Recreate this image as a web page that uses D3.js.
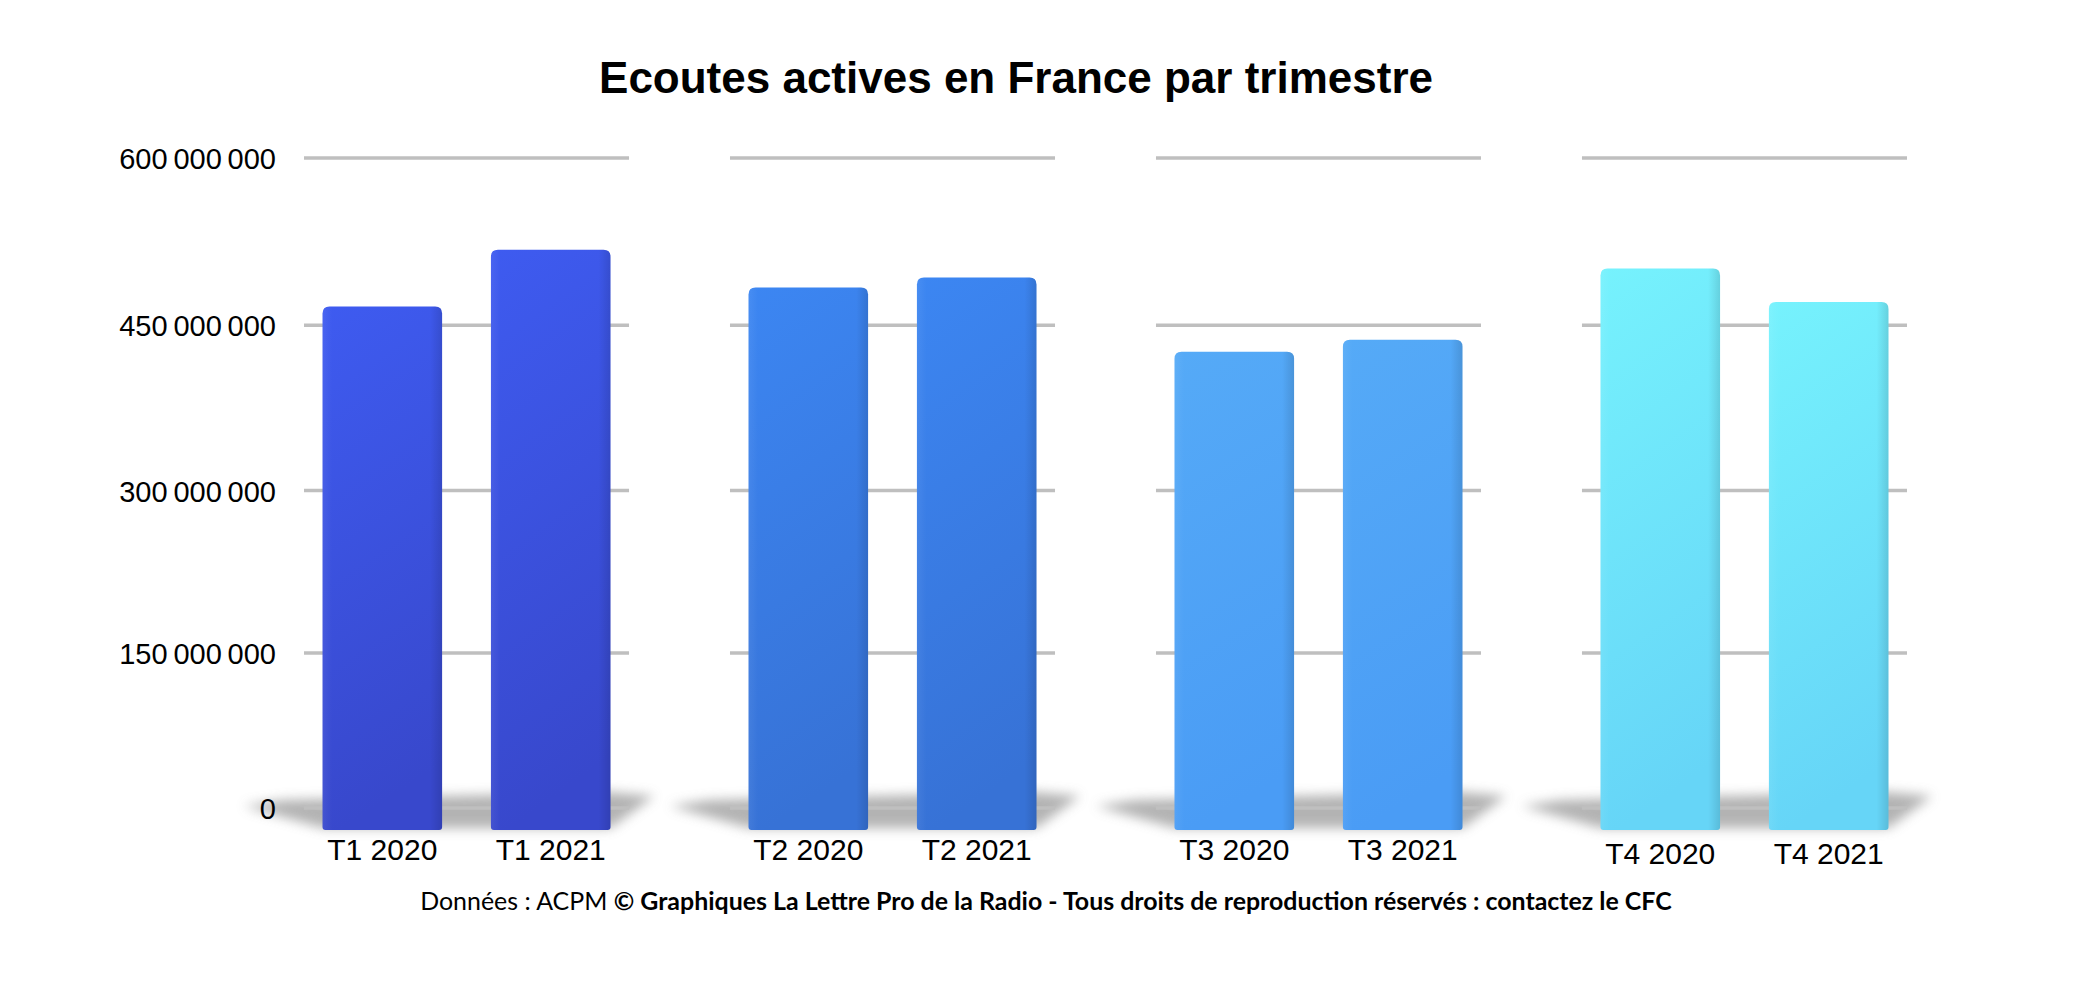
<!DOCTYPE html>
<html>
<head>
<meta charset="utf-8">
<script src="https://cdn.jsdelivr.net/npm/d3@7"></script>
<style>
  body { margin: 0; background: #fff; }
  svg { display: block; }
</style>
</head>
<body>
<div class="graph"></div>
<script>
// données
const trimestres = ['T1', 'T2', 'T3', 'T4']
const annees = ['2020', '2021']
const ecoutes2020 = [467e6, 484e6, 426e6, 501e6]
const ecoutes2021 = [518e6, 493e6, 437e6, 471e6]
const yTicks = [0, 150e6, 300e6, 450e6, 600e6]
const couleursHaut = ['#3e5bf0', '#3c86f2', '#55aaf7', '#76f2fd']
const couleursBas = ['#3848cc', '#3772d6', '#4a9cf5', '#66d5f7']

const titre = "Ecoutes actives en France par trimestre"
const source = "Données : ACPM "
const copyright = "© Graphiques La Lettre Pro de la Radio - Tous droits de reproduction réservés : contactez le CFC"

let width = 2098, height = 994

const data = []
trimestres.forEach((t, i) => {
  data.push({ t: t, annee: '2020', v: ecoutes2020[i], i: i })
  data.push({ t: t, annee: '2021', v: ecoutes2021[i], i: i })
})

const svg = d3.select('.graph')
  .append('svg')
  .attr('width', width)
  .attr('height', height)

const defs = svg.append('defs')

defs.append('filter').attr('id', 'flou')
  .attr('x', '-20%').attr('y', '-100%').attr('width', '140%').attr('height', '300%')
  .append('feGaussianBlur').attr('stdDeviation', 6)

trimestres.forEach((t, i) => {
  const g = defs.append('linearGradient').attr('id', 'grad' + i)
    .attr('x1', 0).attr('y1', 0).attr('x2', 0.15).attr('y2', 1)
  g.append('stop').attr('offset', '0%').attr('stop-color', couleursHaut[i])
  g.append('stop').attr('offset', '100%').attr('stop-color', couleursBas[i])
})

// bord droit un peu plus sombre
const bord = defs.append('linearGradient').attr('id', 'bord')
  .attr('x1', 0).attr('y1', 0).attr('x2', 1).attr('y2', 0)
bord.append('stop').attr('offset', '0%').attr('stop-color', '#fff').attr('stop-opacity', 0.06)
bord.append('stop').attr('offset', '8%').attr('stop-color', '#fff').attr('stop-opacity', 0)
bord.append('stop').attr('offset', '90%').attr('stop-color', '#000').attr('stop-opacity', 0)
bord.append('stop').attr('offset', '100%').attr('stop-color', '#000').attr('stop-opacity', 0.12)

// échelles
const x0 = d3.scaleBand()
  .domain(trimestres)
  .range([304, 1907])
  .paddingInner(0.237)

const x1 = d3.scaleBand()
  .domain(annees)
  .range([0, x0.bandwidth()])
  .paddingInner(0.29)
  .paddingOuter(0.11)

const yScale = d3.scalePow()
  .exponent(1.034)
  .domain([0, 600e6])
  .range([808, 158])

const fr = d3.formatLocale({ decimal: ',', thousands: '\u2009', grouping: [3], currency: ['', ' €'] })
const yFormat = fr.format(',d')

// titre
svg.append('text')
  .text(titre)
  .attr('x', 1016)
  .attr('y', 93)
  .attr('text-anchor', 'middle')
  .style('font-family', '"Liberation Sans", Arial, sans-serif')
  .style('font-weight', 'bold')
  .style('font-size', '44px')
  .attr('fill', '#000')

// ombres au sol
const base = yScale(0)
svg.append('g').selectAll('path')
  .data(trimestres)
  .enter()
  .append('path')
  .attr('d', t => {
    const s = x0(t), e = x0(t) + x0.bandwidth()
    const b1 = s + x1('2020'), b2 = s + x1('2021') + x1.bandwidth()
    return `M${s - 60},${base - 2} L${b1},${base + 20} L${b2},${base + 20} L${e + 25},${base - 12} L${e - 20},${base - 16} L${s - 20},${base - 8} Z`
  })
  .attr('fill', '#9a9a9a')
  .attr('opacity', 0.75)
  .attr('filter', 'url(#flou)')

// lignes de la grille, une par trimestre
const grille = svg.append('g')
yTicks.forEach(v => {
  grille.selectAll(null)
    .data(trimestres)
    .enter()
    .append('line')
    .attr('x1', t => x0(t))
    .attr('x2', t => x0(t) + x0.bandwidth())
    .attr('y1', yScale(v))
    .attr('y2', yScale(v))
    .attr('stroke', '#bfbfbf')
    .attr('stroke-width', 3.5)
})

// axe Y
const yAxis = d3.axisLeft(yScale)
  .tickValues(yTicks)
  .tickFormat(yFormat)
  .tickSize(0)
  .tickPadding(0)

svg.append('g')
  .attr('transform', 'translate(276,0)')
  .call(yAxis)
  .call(g => g.select('.domain').remove())
  .call(g => g.selectAll('text')
    .attr('dy', '0.36em')
    .style('font-family', '"Liberation Sans", Arial, sans-serif')
    .style('font-size', '29px')
    .attr('fill', '#000'))

// barres
const r = 7
const barre = d => {
  const x = x0(d.t) + x1(d.annee), w = x1.bandwidth()
  const top = yScale(d.v), bot = base + 22
  return `M${x},${bot - 3} L${x},${top + r} Q${x},${top} ${x + r},${top} L${x + w - r},${top} Q${x + w},${top} ${x + w},${top + r} L${x + w},${bot - 3} Q${x + w},${bot} ${x + w - 3},${bot} L${x + 3},${bot} Q${x},${bot} ${x},${bot - 3} Z`
}

svg.append('g').selectAll('path')
  .data(data)
  .enter()
  .append('path')
  .attr('class', 'bar')
  .attr('d', barre)
  .attr('fill', d => `url(#grad${d.i})`)

svg.append('g').selectAll('path')
  .data(data)
  .enter()
  .append('path')
  .attr('d', barre)
  .attr('fill', 'url(#bord)')

// étiquettes X
svg.append('g').selectAll('text')
  .data(data)
  .enter()
  .append('text')
  .text(d => `${d.t} ${d.annee}`)
  .attr('x', d => x0(d.t) + x1(d.annee) + x1.bandwidth() / 2)
  .attr('y', d => d.i === 3 ? 864 : 860)
  .attr('text-anchor', 'middle')
  .style('font-family', '"Liberation Sans", Arial, sans-serif')
  .style('font-size', '30px')
  .attr('fill', '#000')

// source
const pied = svg.append('text')
  .attr('x', 1046)
  .attr('y', 910)
  .attr('text-anchor', 'middle')
  .style('font-family', 'Lato, "Open Sans", sans-serif')
  .style('font-size', '22px')
  .attr('fill', '#000')

pied.append('tspan').text(source)
pied.append('tspan').text(copyright).style('font-weight', 'bold')

const longueur = pied.node().getComputedTextLength()
pied.style('font-size', `${22 * 1252 / longueur}px`)
</script>
</body>
</html>
